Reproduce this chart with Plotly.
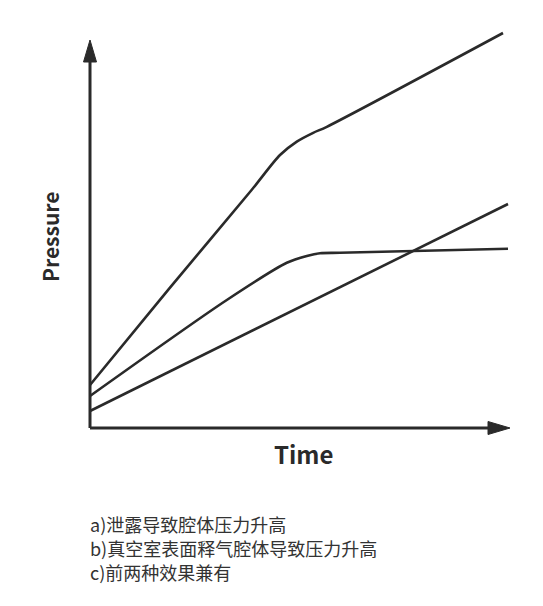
import plotly.graph_objects as go

# --- data (time, pressure in arbitrary units) ---
leak_t = [0.0, 10.45]
leak_p = [0.425, 5.6]

outgas_t = [0.0, 3.42, 4.92, 5.42, 5.75, 6.25, 10.45]
outgas_p = [0.8, 3.2, 4.13, 4.3, 4.37, 4.38, 4.48]

both_t = [0.0, 2.0, 4.04, 4.75, 5.17, 5.58, 5.92, 10.325]
both_p = [1.075, 3.51, 5.95, 6.825, 7.16, 7.38, 7.53, 9.875]

notes = ['a)泄露导致腔体压力升高',
         'b)真空室表面释气腔体导致压力升高',
         'c)前两种效果兼有']

#* --- drawing settings ------
ink = '#2a2a2a'
t_end = 10.5        # end of time axis (arrow tip)
p_end = 9.7         # end of pressure axis (arrow tip)
head_len = 0.55
head_half = 0.1625
font_cjk = 'Noto Sans CJK SC'
#* ---------------------------

fig = go.Figure()

# the three pressure curves
for tt, pp in [(leak_t, leak_p), (outgas_t, outgas_p), (both_t, both_p)]:
    fig.add_trace(go.Scatter(x=tt, y=pp, mode='lines',
                             line=dict(color=ink, width=2.6, shape='spline', smoothing=0.8),
                             hoverinfo='skip', showlegend=False))

# axes drawn by hand with arrow heads
fig.add_trace(go.Scatter(x=[0, t_end - 0.2], y=[0, 0], mode='lines',
                         line=dict(color=ink, width=3), showlegend=False, hoverinfo='skip'))
fig.add_trace(go.Scatter(x=[0, 0], y=[0, p_end - 0.2], mode='lines',
                         line=dict(color=ink, width=3), showlegend=False, hoverinfo='skip'))
fig.add_trace(go.Scatter(x=[t_end, t_end - head_len, t_end - head_len, t_end],
                         y=[0, head_half, -head_half, 0],
                         mode='lines', fill='toself', fillcolor=ink,
                         line=dict(color=ink, width=1), showlegend=False, hoverinfo='skip'))
fig.add_trace(go.Scatter(x=[0, head_half, -head_half, 0],
                         y=[p_end, p_end - head_len, p_end - head_len, p_end],
                         mode='lines', fill='toself', fillcolor=ink,
                         line=dict(color=ink, width=1), showlegend=False, hoverinfo='skip'))

# axis titles
fig.add_annotation(x=-1.0, y=4.775, text='<b>Pressure</b>', textangle=-90, showarrow=False,
                   font=dict(family=font_cjk, size=21, color=ink))
fig.add_annotation(x=5.325, y=-0.625, text='<b>Time</b>', showarrow=False,
                   font=dict(family=font_cjk, size=24, color=ink))

# notes below the chart
for i, txt in enumerate(notes):
    fig.add_annotation(x=-0.05, y=-2.4 - 0.6 * i, text=txt, showarrow=False,
                       xanchor='left', yanchor='middle',
                       font=dict(family=font_cjk, size=18, color='#333333'))

# page has an 8px body margin, ranges are shifted to compensate
fig.update_layout(width=543, height=606,
                  margin=dict(l=0, r=0, t=0, b=0),
                  paper_bgcolor='white', plot_bgcolor='white',
                  xaxis=dict(range=[-2.05, 11.525], visible=False, fixedrange=True),
                  yaxis=dict(range=[-4.65, 10.5], visible=False, fixedrange=True),
                  showlegend=False)

fig.write_html('out.html')
